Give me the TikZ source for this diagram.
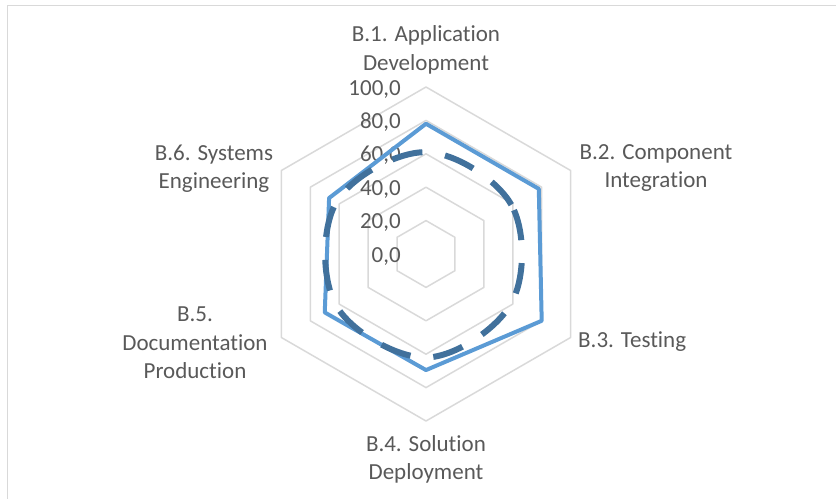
\documentclass[tikz,border=0pt]{standalone}
\usepackage{fontspec}
\setmainfont{Carlito}[Ligatures=NoCommon]
\usepackage{xcolor}
\definecolor{gridgray}{HTML}{D9D9D9}
\definecolor{textgray}{HTML}{595959}
\definecolor{serieslight}{HTML}{5B9BD5}
\definecolor{seriesdark}{HTML}{41719C}
\newcommand{\ru}{1.67}
\newcommand{\drawGridHex}[1]{
\draw [gridline] (90:{#1*\ru}) -- (30:{#1*\ru}) -- (-30:{#1*\ru}) -- (-90:{#1*\ru}) -- (-150:{#1*\ru}) -- (150:{#1*\ru}) -- cycle;
}
\newcommand{\drawAxisValue}[2]{
\node (#1) at (-25,{#2*\ru-8}) [axisval] {#2,0};
}
\tikzset{
  gridline/.style={gridgray,line width=1.5pt,line join=round},
  axisval/.style={anchor=base east,inner sep=0pt,text=textgray,font=\fontsize{23}{28.5}\selectfont},
  catlabel/.style={anchor=base,align=center,inner sep=0pt,text=textgray,font=\fontsize{23}{28.5}\selectfont},
  seriesA/.style={serieslight,line width=4pt,line join=round},
  seriesB/.style={seriesdark,line width=6pt,dash pattern=on 31pt off 23pt,dash phase=48pt}
}
\begin{document}
\begin{tikzpicture}[x=1pt,y=1pt]
\useasboundingbox (-426,-245) rectangle (410,254);
% chart frame
\draw [gridgray,line width=1.5pt] (410,248.5) -- (-418.5,248.5) -- (-418.5,-245);
%
\drawGridHex{20}
\drawGridHex{40}
\drawGridHex{60}
\drawGridHex{80}
\drawGridHex{100}
%
\drawAxisValue{v0}{0}
\drawAxisValue{v20}{20}
\drawAxisValue{v40}{40}
\drawAxisValue{v60}{60}
\drawAxisValue{v80}{80}
\drawAxisValue{v100}{100}
%
\draw [seriesA] (90:{78*\ru}) -- (30:{78*\ru}) -- (-30:{80*\ru}) -- (-90:{69.5*\ru}) -- (-150:{70*\ru}) -- (150:{67*\ru}) -- cycle;
\draw [seriesB] plot [smooth cycle,tension=0.6] coordinates {(90:{61*\ru}) (30:{59*\ru}) (-30:{59*\ru}) (-90:{62*\ru}) (-150:{62*\ru}) (150:{62*\ru})};
%
\node (b1) at (0,184) [catlabel] {B.1. Application\\Development};
\node (b2) at (230,66.2) [catlabel] {B.2. Component\\Integration};
\node (b3) at (152,-93.7) [catlabel,anchor=base west] {B.3. Testing};
\node (b4) at (0,-225.5) [catlabel] {B.4. Solution\\Deployment};
\node (b5) at (-231,-124.5) [catlabel] {B.5.\\Documentation\\Production};
\node (b6) at (-212,65.5) [catlabel] {B.6. Systems\\Engineering};
\end{tikzpicture}
\end{document}
